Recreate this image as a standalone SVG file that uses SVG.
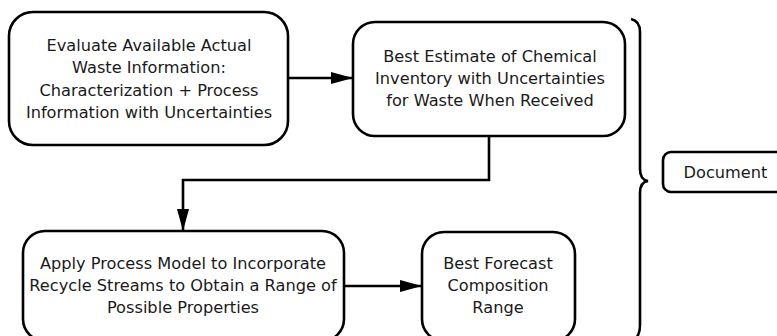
<svg xmlns="http://www.w3.org/2000/svg" width="777" height="336" viewBox="0 0 777 336">
<style>
.box{fill:#fff;stroke:#000;stroke-width:2.6}
.t{font-family:"DejaVu Sans",Verdana,sans-serif;font-size:16.2px;fill:#1a1a1a;text-anchor:middle}
.c{fill:none;stroke:#000;stroke-width:2.6}
</style>
<defs>
<marker id="ah" viewBox="0 0 22 12" refX="22" refY="6" markerWidth="22" markerHeight="12" markerUnits="userSpaceOnUse" orient="auto">
<path d="M0,0 L22,6 L0,12 Z" fill="#000"/>
</marker>
</defs>
<rect width="777" height="336" fill="#fff"/>
<g id="connectors">
<line class="c" x1="289" y1="78" x2="353" y2="78" marker-end="url(#ah)"/>
<polyline class="c" points="489,137 489,180 183,180 183,231" marker-end="url(#ah)"/>
<line class="c" x1="344" y1="286" x2="422" y2="286" marker-end="url(#ah)"/>
<path class="c" d="M631,19 Q640,21 640,32 L640,169 Q640,180 648,181 Q640,182 640,193 L640,325 Q640,334 636,338"/>
</g>
<g id="n1">
<rect class="box" x="9" y="12" width="279" height="133" rx="24"/>
<text class="t" x="149" y="51">Evaluate Available Actual</text>
<text class="t" x="149" y="73">Waste Information:</text>
<text class="t" x="149" y="96">Characterization + Process</text>
<text class="t" x="149" y="118">Information with Uncertainties</text>
</g>
<g id="n2">
<rect class="box" x="353" y="22" width="272" height="114" rx="22"/>
<text class="t" x="490" y="62">Best Estimate of Chemical</text>
<text class="t" x="490" y="84">Inventory with Uncertainties</text>
<text class="t" x="490" y="106">for Waste When Received</text>
</g>
<g id="n3">
<rect class="box" x="23" y="231" width="321" height="110" rx="22"/>
<text class="t" x="183" y="269">Apply Process Model to Incorporate</text>
<text class="t" x="183" y="291">Recycle Streams to Obtain a Range of</text>
<text class="t" x="183" y="313">Possible Properties</text>
</g>
<g id="n4">
<rect class="box" x="422" y="232" width="153" height="109" rx="22"/>
<text class="t" x="498" y="269">Best Forecast</text>
<text class="t" x="498" y="291">Composition</text>
<text class="t" x="498" y="313">Range</text>
</g>
<g id="n5">
<rect class="box" x="663" y="152" width="130" height="40" rx="8"/>
<text class="t" x="725.5" y="178">Document</text>
</g>
</svg>
